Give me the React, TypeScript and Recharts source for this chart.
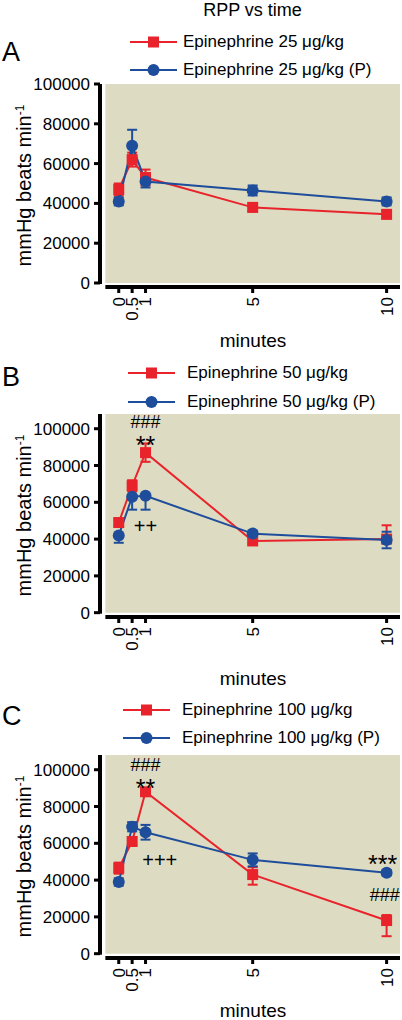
import React from "react";
import {
  LineChart,
  Line,
  XAxis,
  YAxis,
  ErrorBar,
  ReferenceArea,
  ReferenceDot,
} from "recharts";

// time points (minutes)
const minutes = [0, 0.5, 1, 5, 10];
const xTicks = [0, 0.5, 1, 5, 10];
const yTicks = [0, 20000, 40000, 60000, 80000, 100000];

// panel A: 25 ug/kg
const epi25 = [47000, 62000, 53000, 38000, 34500];
const epi25Err = [[3000, 3000], [3500, 3500], [4000, 4000], [2000, 2000], [2000, 2000]];
const epi25P = [41000, 69000, 51000, 46500, 41000];
const epi25PErr = [[2000, 2000], [8000, 8000], [3000, 3000], [2500, 2500], [2000, 2000]];

// panel B: 50 ug/kg
const epi50 = [49000, 69000, 87000, 39000, 40000];
const epi50Err = [[1500, 1500], [3000, 3000], [5000, 5000], [1500, 1500], [0, 7500]];
const epi50P = [42000, 63000, 63500, 43000, 39500];
const epi50PErr = [[4000, 0], [7000, 0], [7500, 0], [1500, 1500], [4500, 4500]];

// panel C: 100 ug/kg
const epi100 = [46500, 61000, 88000, 43000, 18000];
const epi100Err = [[3000, 3000], [2000, 2000], [2000, 2000], [5500, 4000], [8500, 3000]];
const epi100P = [39000, 69000, 66000, 51000, 44000];
const epi100PErr = [[2000, 2000], [2500, 2500], [4000, 4000], [3500, 3500], [1500, 1500]];

// significance marks (x in minutes, y = text baseline value)
const marksB = [
  { x: 1, y: 100400, text: "###", size: 18 },
  { x: 1, y: 86400, text: "**", size: 25 },
  { x: 1, y: 43500, text: "++", size: 20 },
];
const marksC = [
  { x: 1, y: 99400, text: "###", size: 18 },
  { x: 1, y: 85200, text: "**", size: 25 },
  { x: 1.53, y: 47200, text: "+++", size: 20 },
  { x: 9.85, y: 43700, text: "***", size: 25 },
  { x: 9.93, y: 28900, text: "###", size: 18 },
];

const RED = "#e8232b";
const BLUE = "#1e4d9b";
const BG = "#dddcc2";
const FONT = "'Liberation Sans', Arial, sans-serif";

const X_MIN = -0.7;
const X_MAX = 10.5;
const PLOT_LEFT = 100;
const PLOT_W = 300;
const PLOT_H = 203;

const panels = [
  {
    letter: "A", dose: "25", plotTop: 84, yMax: 100000, yMin: -2010,
    drug: epi25, drugErr: epi25Err, prop: epi25P, propErr: epi25PErr,
    marks: [], legendRows: [-42, -14], legendX: 130, textX: 183, letterDy: -32, minutesDy: 60,
  },
  {
    letter: "B", dose: "50", plotTop: 414, yMax: 108000, yMin: -2350,
    drug: epi50, drugErr: epi50Err, prop: epi50P, propErr: epi50PErr,
    marks: marksB, legendRows: [-41, -12], legendX: 128, textX: 187, letterDy: -37, minutesDy: 68,
  },
  {
    letter: "C", dose: "100", plotTop: 755, yMax: 108000, yMin: -2350,
    drug: epi100, drugErr: epi100Err, prop: epi100P, propErr: epi100PErr,
    marks: marksC, legendRows: [-45, -17], legendX: 123, textX: 182, letterDy: -39, minutesDy: 59,
  },
];

const MinuteTick = (props: any) => {
  const { x, y, payload } = props;
  return (
    <text
      transform={`translate(${x},${y}) rotate(-90)`}
      textAnchor="end"
      dy="0.35em"
      fontSize={17}
      fill="#000"
      fontFamily={FONT}
    >
      {payload.value}
    </text>
  );
};

const Square = (props: any) => {
  const { cx, cy, index } = props;
  return <rect key={`sq-${index}`} x={cx - 5.5} y={cy - 5.5} width={11} height={11} fill={RED} />;
};

const LegendRow = ({ y, x, textX, color, square, text }: any) => (
  <div style={{ position: "absolute", left: 0, top: y - 12, width: 402, height: 24 }}>
    <svg style={{ position: "absolute", left: x, top: 0 }} width={50} height={24}>
      <line x1={0} y1={12} x2={47} y2={12} stroke={color} strokeWidth={2} />
      {square ? (
        <rect x={18} y={6.5} width={11} height={11} fill={color} />
      ) : (
        <circle cx={23.5} cy={12} r={6} fill={color} />
      )}
    </svg>
    <span style={{ position: "absolute", left: textX, top: 0, lineHeight: "24px", fontSize: 17, whiteSpace: "nowrap" }}>
      {text}
    </span>
  </div>
);

// GraphPad-style offset axis lines (y axis stops at 0, x axis starts at -0.5)
const AxisFrame = ({ p }: any) => {
  const xPx = (v: number) => PLOT_LEFT + ((v - X_MIN) / (X_MAX - X_MIN)) * PLOT_W;
  const yPx = (v: number) => ((p.yMax - v) / (p.yMax - p.yMin)) * PLOT_H;
  return (
    <svg
      style={{ position: "absolute", left: 0, top: p.plotTop - 2, pointerEvents: "none" }}
      width={402}
      height={PLOT_H + 6}
    >
      <g transform="translate(0,2)">
        <line x1={PLOT_LEFT} y1={yPx(p.yMax)} x2={PLOT_LEFT} y2={yPx(0) + 1} stroke="#000" strokeWidth={4} />
        <line x1={xPx(-0.5)} y1={PLOT_H} x2={xPx(X_MAX)} y2={PLOT_H} stroke="#000" strokeWidth={4} />
      </g>
    </svg>
  );
};

const Panel = ({ p }: any) => {
  const data = minutes.map((m, i) => ({
    m,
    drug: p.drug[i],
    drugErr: p.drugErr[i],
    prop: p.prop[i],
    propErr: p.propErr[i],
  }));

  return (
    <>
      <div
        style={{
          position: "absolute", left: 2, top: p.plotTop + p.letterDy - 16,
          fontSize: 27, lineHeight: "32px",
        }}
      >
        {p.letter}
      </div>
      <LegendRow y={p.plotTop + p.legendRows[0]} x={p.legendX} textX={p.textX} color={RED} square
        text={`Epinephrine ${p.dose} μg/kg`} />
      <LegendRow y={p.plotTop + p.legendRows[1]} x={p.legendX} textX={p.textX} color={BLUE}
        text={`Epinephrine ${p.dose} μg/kg (P)`} />
      <div style={{ position: "absolute", left: 0, top: p.plotTop - 10 }}>
        <LineChart
          width={402}
          height={290}
          data={data}
          margin={{ top: 10, right: 2, left: PLOT_LEFT - 60, bottom: 0 }}
          style={{ fontFamily: FONT }}
        >
          <ReferenceArea x1={-0.5} x2={10.5} y1={0} y2={p.yMax} fill={BG} fillOpacity={1} stroke="none" ifOverflow="visible" />
          <XAxis
            dataKey="m"
            type="number"
            domain={[X_MIN, X_MAX]}
            ticks={xTicks}
            interval={0}
            allowDataOverflow
            axisLine={false}
            tickLine={{ stroke: "#000", strokeWidth: 3 }}
            tickSize={6}
            tickMargin={4}
            height={77}
            tick={<MinuteTick />}
            label={{
              content: ({ viewBox }: any) => (
                <text
                  x={viewBox.x + viewBox.width / 2 + 3}
                  y={viewBox.y + p.minutesDy}
                  textAnchor="middle"
                  fontSize={19}
                  fill="#000"
                  fontFamily={FONT}
                >
                  minutes
                </text>
              ),
            }}
          />
          <YAxis
            type="number"
            domain={[p.yMin, p.yMax]}
            ticks={yTicks}
            interval={0}
            allowDataOverflow
            axisLine={false}
            tickLine={{ stroke: "#000", strokeWidth: 3 }}
            tickSize={6}
            tickMargin={4}
            width={60}
            tick={{ fontSize: 17, fill: "#000", fontFamily: FONT }}
            label={{
              content: ({ viewBox }: any) => {
                const cy = viewBox.y + viewBox.height / 2;
                return (
                  <text
                    transform={`translate(31,${cy}) rotate(-90)`}
                    textAnchor="middle"
                    fontSize={20}
                    fill="#000"
                    fontFamily={FONT}
                  >
                    mmHg beats min
                    <tspan dy="-0.55em" fontSize={12}>-1</tspan>
                  </text>
                );
              },
            }}
          />
          <Line
            dataKey="drug"
            stroke={RED}
            strokeWidth={2}
            dot={<Square />}
            activeDot={false}
            isAnimationActive={false}
          >
            <ErrorBar dataKey="drugErr" direction="y" width={5} stroke={RED} strokeWidth={2} />
          </Line>
          <Line
            dataKey="prop"
            stroke={BLUE}
            strokeWidth={2}
            dot={{ r: 6, fill: BLUE, stroke: BLUE, strokeWidth: 0 }}
            activeDot={false}
            isAnimationActive={false}
          >
            <ErrorBar dataKey="propErr" direction="y" width={5} stroke={BLUE} strokeWidth={2} />
          </Line>
          {p.marks.map((mk: any, i: number) => (
            <ReferenceDot
              key={i}
              x={mk.x}
              y={mk.y}
              r={0}
              ifOverflow="visible"
              shape={(sp: any) => (
                <text x={sp.cx} y={sp.cy} textAnchor="middle" fontSize={mk.size} fill="#000" fontFamily={FONT}>
                  {mk.text}
                </text>
              )}
            />
          ))}
        </LineChart>
      </div>
      <AxisFrame p={p} />
    </>
  );
}

export default function App() {
  return (
    <div
      style={{
        position: "absolute", left: 0, top: 0, width: 402, height: 1020,
        background: "#fff", fontFamily: FONT, color: "#000", overflow: "hidden",
      }}
    >
      <div style={{ position: "absolute", left: 0, width: 505, top: -2, textAlign: "center", fontSize: 18, lineHeight: "24px" }}>
        RPP vs time
      </div>
      {panels.map((p) => (
        <Panel key={p.letter} p={p} />
      ))}
    </div>
  );
}
